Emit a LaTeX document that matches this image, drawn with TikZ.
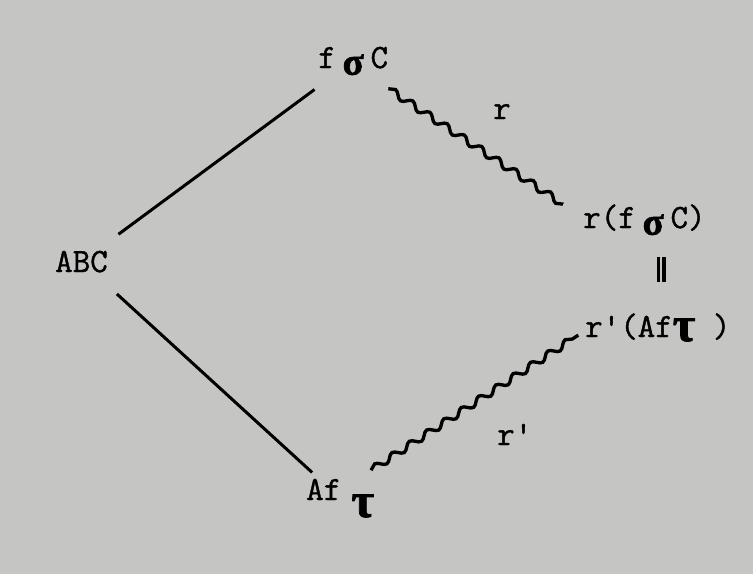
\documentclass[tikz,border=0pt]{standalone}
\usepackage{fontspec}
\newfontfamily\typew[FakeBold=1.2]{Latin Modern Mono}
\newfontfamily\grkfont[FakeBold=1.5]{Liberation Serif}
\usetikzlibrary{decorations.pathmorphing,calc}

\definecolor{paper}{RGB}{197,198,196}
\newcommand{\sigsym}{\hspace{0.2em}\raisebox{-0.2em}{\scalebox{1.15}{\grkfont\bfseries σ}}\hspace{0.2em}}
\newcommand{\tausym}[1]{\raisebox{#1}{\scalebox{1.45}{\grkfont\bfseries τ}}}

\tikzset{
  lbl/.style={font=\fontsize{29}{33}\typew, inner sep=0pt, anchor=base west},
  edge/.style={line width=0.09cm},
  wave/.style={line width=0.1cm, decorate,
    decoration={snake, amplitude=0.1cm, segment length=0.62cm}},
  eqbar/.style={line width=0.1cm, double=paper, double distance=0.07cm}
}

\begin{document}
\begin{tikzpicture}[x=0.03cm,y=-0.03cm]
  % paper
  \fill[paper] (0,0) rectangle (753,574);
  \useasboundingbox (0,0) rectangle (753,574);

  % terms
  \node[lbl] (abc)  at (55,272)  {ABC};
  \node[lbl] (fsc)  at (318,68)  {f\sigsym C};
  \node[lbl] (rfsc) at (583,228) {r(f\sigsym C)};
  \node[lbl] (rafc) at (585,337) {r'(Af\tausym{-0.12em} )};
  \node[lbl] (aft)  at (306,500) {Af\hspace{0.3em}\tausym{-0.5em}};

  % reduction labels
  \node[lbl] (lr)  at (493,119) {r};
  \node[lbl] (lrp) at (497,445) {r'};

  % straight lines
  \draw[edge] ($(abc.center)!1.38cm!(fsc.center)$) -- ($(fsc.center)!1.44cm!(abc.center)$);
  \draw[edge] ($(abc.center)!1.44cm!(aft.center)$) -- ($(aft.center)!1.14cm!(abc.center)$);

  % wavy reductions
  \draw[wave] ([yshift=-0.4cm]fsc.south east) -- ([xshift=-0.6cm]rfsc.north west);
  \draw[wave] ([shift={(-0.1cm,0.25cm)}]aft.north east) -- ([shift={(-0.2cm,0.2cm)}]rafc.south west);

  % equality
  \draw[eqbar, shorten <=0.66cm, shorten >=0.93cm]
    ([xshift=0.5cm]rfsc.south) -- ([xshift=0.5cm]rfsc.south |- rafc.north);
\end{tikzpicture}
\end{document}
